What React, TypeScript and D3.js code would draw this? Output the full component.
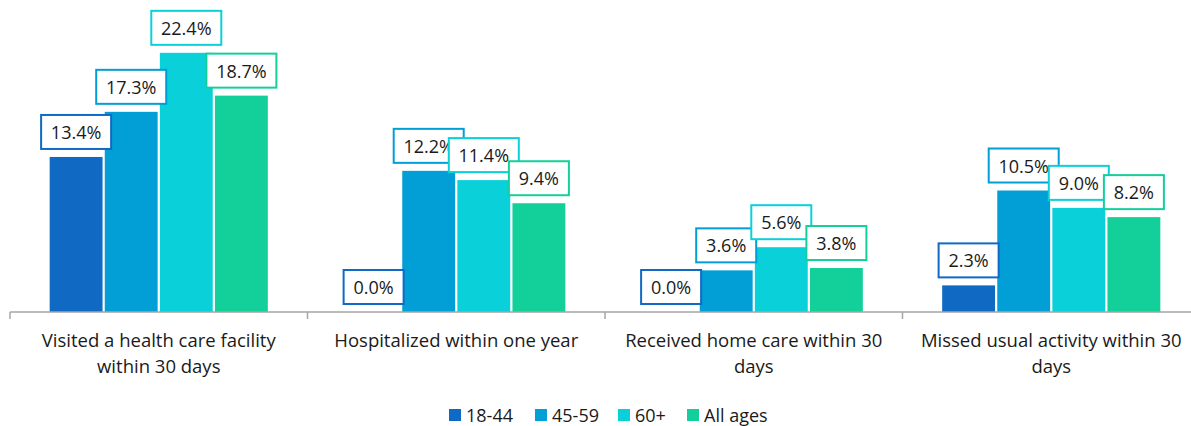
import * as d3 from "d3";

const CATEGORIES = [
  ["Visited a health care facility", "within 30 days"],
  ["Hospitalized within one year"],
  ["Received home care within 30", "days"],
  ["Missed usual activity within 30", "days"],
];
const SERIES = ["18-44", "45-59", "60+", "All ages"];
const COLORS = ["#106AC3", "#029ED6", "#0AD0D9", "#13D09B"];
const VALUES = [
  [13.4, 0.0, 0.0, 2.3],
  [17.3, 12.2, 3.6, 10.5],
  [22.4, 11.4, 5.6, 9.0],
  [18.7, 9.4, 3.8, 8.2],
];

const W = 1191;
const H = 426;
const FONT = "'Open Sans', sans-serif";

export default function App() {
  const base = 312;
  const x = d3.scaleBand<number>().domain(d3.range(CATEGORIES.length)).range([10, 1200]);
  const inner = d3.scaleBand<number>().domain(d3.range(SERIES.length))
    .range([0, x.bandwidth()]).paddingInner(0.04).paddingOuter(0.72);
  const y = d3.scaleLinear().domain([0, 25]).range([base, base - 25 * 11.57]);

  const labelW = (v: number) => (v >= 10 ? 70 : 60);
  const pos = (si: number, ci: number) => {
    const bx = x(ci)! + inner(si)!;
    return { bx, cx: bx + inner.bandwidth() / 2, top: y(VALUES[si][ci]) };
  };

  return (
    <div style={{ position: "absolute", left: 0, top: 0 }}>
      <svg width={W} height={H} style={{ display: "block", fontFamily: FONT }}>
        {SERIES.map((s, si) =>
          CATEGORIES.map((c, ci) => {
            const { bx, top } = pos(si, ci);
            return (
              <rect key={`b${si}-${ci}`} x={bx} y={top} width={inner.bandwidth()} height={base - top} fill={COLORS[si]} />
            );
          })
        )}
        {SERIES.map((s, si) =>
          CATEGORIES.map((c, ci) => {
            const v = VALUES[si][ci];
            const { cx, top } = pos(si, ci);
            const lw = labelW(v);
            return (
              <g key={`l${si}-${ci}`}>
                <rect x={cx - lw / 2} y={top - 42} width={lw} height={34} fill="#fff" stroke={COLORS[si]} strokeWidth={2} />
                <text x={cx} y={top - 18} textAnchor="middle" fontSize={18} fill="#1a1a1a">
                  {v.toFixed(1)}%
                </text>
              </g>
            );
          })
        )}
        <line x1={10} x2={1200} y1={base} y2={base} stroke="#a6a6a6" strokeWidth={1.5} />
        {d3.range(CATEGORIES.length + 1).map((i) => {
          const tx = i < CATEGORIES.length ? x(i)! : x.range()[1];
          return <line key={i} x1={tx} x2={tx} y1={base} y2={base + 7} stroke="#a6a6a6" strokeWidth={1.5} />;
        })}
        {CATEGORIES.map((lines, ci) => (
          <text key={ci} x={x(ci)! + x.bandwidth() / 2} y={347} textAnchor="middle" fontSize={18.5} fill="#1a1a1a">
            {lines.map((l, li) => (
              <tspan key={li} x={x(ci)! + x.bandwidth() / 2} dy={li === 0 ? 0 : 26}>{l}</tspan>
            ))}
          </text>
        ))}
        {SERIES.map((s, si) => {
          const lx = [449, 535, 618, 687][si];
          return (
            <g key={s}>
              <rect x={lx} y={409} width={12} height={12} fill={COLORS[si]} />
              <text x={lx + 17} y={422} fontSize={18} fill="#1a1a1a">{s}</text>
            </g>
          );
        })}
      </svg>
    </div>
  );
}
